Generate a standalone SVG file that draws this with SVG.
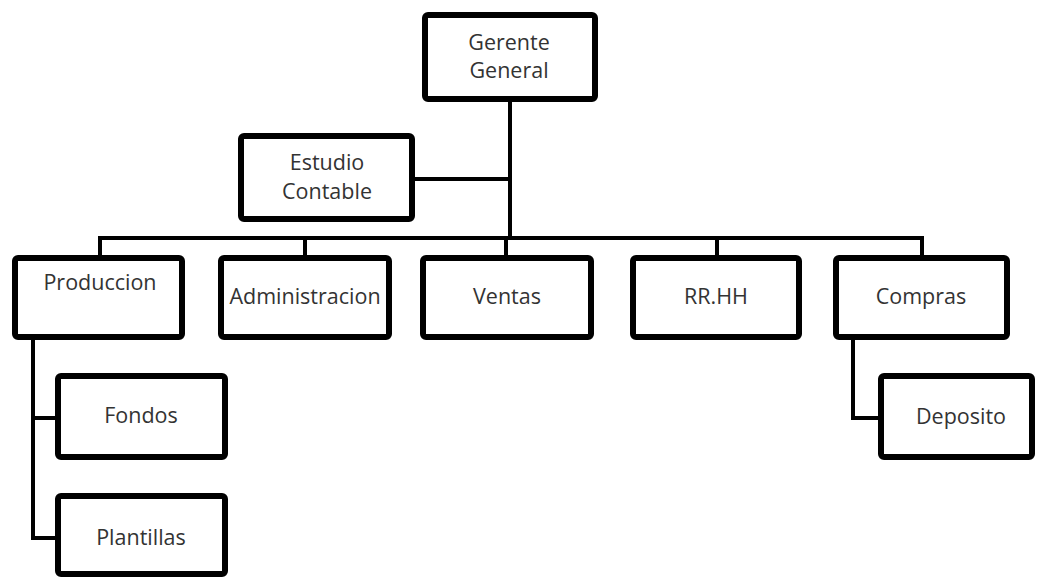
<svg xmlns="http://www.w3.org/2000/svg" width="1037" height="579" viewBox="0 0 1037 579">
<style>
.box{fill:#fff;stroke:#000;stroke-width:6;}
.lbl{font-family:"Open Sans","Liberation Sans",sans-serif;font-size:21.5px;fill:#333;text-anchor:middle;}
.con{fill:none;stroke:#000;stroke-width:4;stroke-linecap:square;}
</style>
<rect width="1037" height="579" fill="#fff"/>
<g id="connectors">
<path class="con" d="M510,102 V238"/>
<path class="con" d="M415,179 H510"/>
<path class="con" d="M100,238 H922"/>
<path class="con" d="M100,238 V255 M305,238 V255 M506,238 V255 M717,238 V255 M922,238 V255"/>
<path class="con" d="M33,340 V538 H55 M33,418 H55"/>
<path class="con" d="M853,340 V418 H878"/>
</g>
<g id="gerente"><rect class="box" x="425" y="15" width="170" height="84" rx="3"/><text class="lbl" x="509" y="50">Gerente</text><text class="lbl" x="509" y="78">General</text></g>
<g id="estudio"><rect class="box" x="241" y="136" width="171" height="83" rx="3"/><text class="lbl" x="327" y="170">Estudio</text><text class="lbl" x="327" y="199">Contable</text></g>
<g id="produccion"><rect class="box" x="15" y="258" width="167" height="79" rx="3"/><text class="lbl" x="100" y="290">Produccion</text></g>
<g id="administracion"><rect class="box" x="221" y="258" width="168" height="79" rx="3"/><text class="lbl" x="305" y="304">Administracion</text></g>
<g id="ventas"><rect class="box" x="423" y="258" width="168" height="79" rx="3"/><text class="lbl" x="507" y="304">Ventas</text></g>
<g id="rrhh"><rect class="box" x="633" y="258" width="166" height="79" rx="3"/><text class="lbl" x="716" y="304">RR.HH</text></g>
<g id="compras"><rect class="box" x="836" y="258" width="171" height="79" rx="3"/><text class="lbl" x="921" y="304">Compras</text></g>
<g id="fondos"><rect class="box" x="58" y="376" width="167" height="81" rx="3"/><text class="lbl" x="141" y="423">Fondos</text></g>
<g id="plantillas"><rect class="box" x="58" y="496" width="167" height="78" rx="3"/><text class="lbl" x="141" y="545">Plantillas</text></g>
<g id="deposito"><rect class="box" x="881" y="376" width="151" height="81" rx="3"/><text class="lbl" x="961" y="424">Deposito</text></g>
</svg>
